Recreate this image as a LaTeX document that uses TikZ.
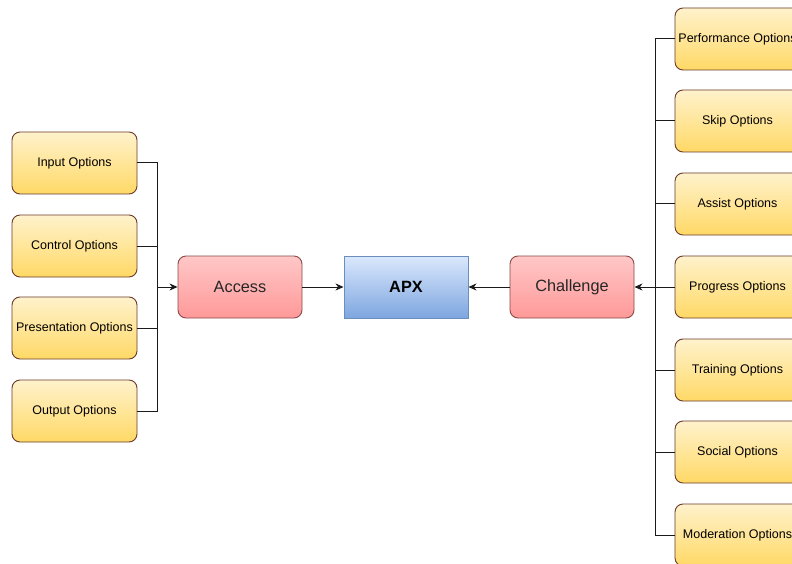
\documentclass[tikz,border=0pt]{standalone}
\usepackage{fontspec}
\setmainfont{Liberation Sans}
\usetikzlibrary{arrows.meta}
\definecolor{optTop}{HTML}{FFF2CC}
\definecolor{optBot}{HTML}{FFD966}
\definecolor{optLine}{HTML}{6B3A2A}
\definecolor{redTop}{HTML}{FFC7C7}
\definecolor{redBot}{HTML}{FF9999}
\definecolor{redLine}{HTML}{8A4A48}
\definecolor{blueTop}{HTML}{DAE8FC}
\definecolor{blueBot}{HTML}{7EA6E0}
\definecolor{blueLine}{HTML}{6C8EBF}
\definecolor{wire}{HTML}{1A1A1A}
\tikzset{
  optbox/.style={draw=optLine, line width=0.9pt, rounded corners=8pt,
    top color=optTop, bottom color=optBot, minimum width=125pt,
    minimum height=62pt, inner sep=0pt, text=black,
    font=\fontsize{12.5}{14}\selectfont},
  hubbox/.style={draw=redLine, line width=0.9pt, rounded corners=8pt,
    top color=redTop, bottom color=redBot, minimum width=124pt,
    minimum height=62pt, inner sep=0pt, text=black!85,
    font=\fontsize{16.3}{18}\selectfont},
  corebox/.style={draw=blueLine, line width=0.9pt,
    top color=blueTop, bottom color=blueBot, minimum width=124pt,
    minimum height=62pt, inner sep=0pt, text=black,
    font=\fontsize{16.3}{18}\selectfont\bfseries},
  wireline/.style={draw=wire, line width=1pt},
  arrowline/.style={wireline, -{Stealth[length=8pt,width=7pt,inset=2.5pt]}}
}
\begin{document}
\begin{tikzpicture}[x=1pt,y=-1pt]
\useasboundingbox (0,0) rectangle (792,564);
\clip (0,0) rectangle (792,564);
\fill[white] (0,0) rectangle (792,564);

% access options
\node[optbox] (inp)  at (74.5,163) {Input Options};
\node[optbox] (ctl)  at (74.5,246) {Control Options};
\node[optbox] (pres) at (74.5,328) {Presentation Options};
\node[optbox] (outp) at (74.5,411) {Output Options};

% central chain
\node[hubbox]  (access) at (240,287) {Access};
\node[corebox] (apx)    at (406,287) {APX};
\node[hubbox]  (chal)   at (572,287) {Challenge};

% challenge options
\node[optbox] (perf) at (737.5,39)  {Performance Options};
\node[optbox] (skip) at (737.5,121) {Skip Options};
\node[optbox] (asst) at (737.5,204) {Assist Options};
\node[optbox] (prog) at (737.5,287) {Progress Options};
\node[optbox] (trn)  at (737.5,370) {Training Options};
\node[optbox] (soc)  at (737.5,452) {Social Options};
\node[optbox] (mod)  at (737.5,535) {Moderation Options};

\coordinate (busL) at (157,287);
\coordinate (busR) at (655,287);

% left bus
\draw[wireline] (inp.east)  -| (busL);
\draw[wireline] (ctl.east)  -| (busL);
\draw[wireline] (pres.east) -| (busL);
\draw[wireline] (outp.east) -| (busL);
\draw[arrowline] (busL) -- (access.west);

% chain arrows
\draw[arrowline] (access.east) -- (apx.west);
\draw[arrowline] (chal.west) -- (apx.east);

% right bus
\draw[wireline] (perf.west) -| (busR);
\draw[wireline] (skip.west) -| (busR);
\draw[wireline] (asst.west) -| (busR);
\draw[wireline] (trn.west)  -| (busR);
\draw[wireline] (soc.west)  -| (busR);
\draw[wireline] (mod.west)  -| (busR);
\draw[arrowline] (prog.west) -- (chal.east);
\end{tikzpicture}
\end{document}
